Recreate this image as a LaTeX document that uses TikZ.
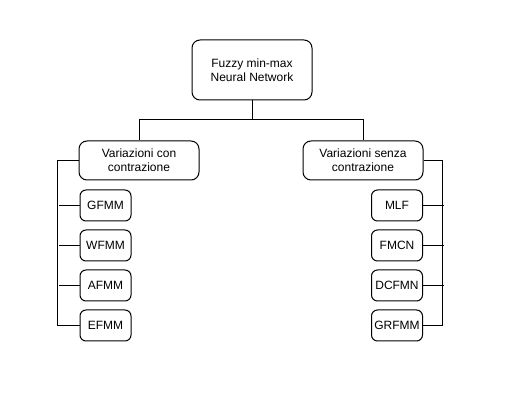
\documentclass[tikz,border=0pt]{standalone}
\usepackage{fontspec}
\setmainfont{Liberation Sans}
\usetikzlibrary{positioning}

\begin{document}
\begin{tikzpicture}[
    x=1pt,y=-1pt,
    box/.style={rectangle,draw,line width=1pt,rounded corners=8pt,fill=white,minimum width=120pt,minimum height=39pt,inner sep=0pt,align=center,font=\fontsize{12}{14}\selectfont},
    leaf/.style={box,rounded corners=6pt,minimum width=51pt,minimum height=31pt},
    link/.style={line width=1pt}
]
    \useasboundingbox (0,0) rectangle (531,419);

    % Root
    \node[box,minimum height=60pt] (fmm) at (252,70) {Fuzzy min-max\\Neural Network};

    % Two families
    \node[box] (con) at (139,160.5) {Variazioni con\\contrazione};
    \node[box] (senza) at (363,160.5) {Variazioni senza\\contrazione};
    \draw[link] (fmm.south) -- ++(0,19) -| (con.north);
    \draw[link] (fmm.south) -- ++(0,19) -| (senza.north);

    % With contraction
    \node[leaf] (gfmm) at (105.5,205.5) {GFMM};
    \node[leaf] (wfmm) at (105.5,245.5) {WFMM};
    \node[leaf] (afmm) at (105.5,285.5) {AFMM};
    \node[leaf] (efmm) at (105.5,325.5) {EFMM};
    \draw[link] (con.west) -- ++(-21,0) |- (efmm.west);
    \foreach \n in {gfmm,wfmm,afmm}
        \draw[link] (\n.west) -- ++(-21,0);

    % Without contraction
    \node[leaf] (mlf) at (397,205.5) {MLF};
    \node[leaf] (fmcn) at (397,245.5) {FMCN};
    \node[leaf] (dcfmn) at (397,285.5) {DCFMN};
    \node[leaf] (grfmm) at (397,325.5) {GRFMM};
    \draw[link] (senza.east) -- ++(19,0) |- (grfmm.east);
    \foreach \n in {mlf,fmcn,dcfmn}
        \draw[link] (\n.east) -- ++(20.5,0);
\end{tikzpicture}
\end{document}
